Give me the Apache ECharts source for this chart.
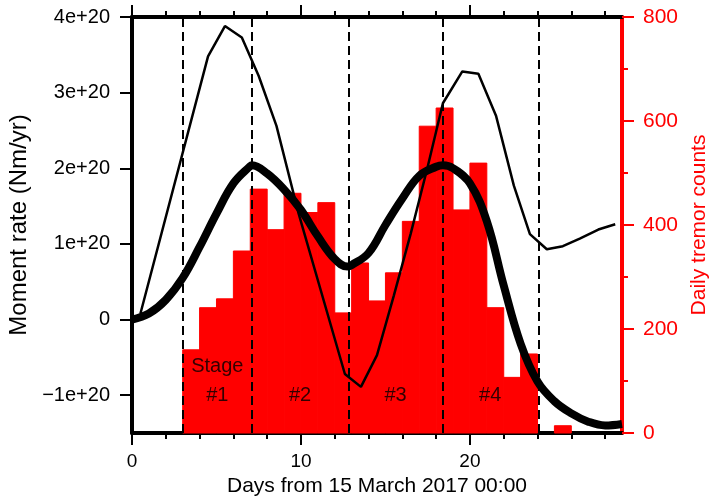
<!DOCTYPE html>
<html><head><meta charset="utf-8">
<script src="https://cdn.jsdelivr.net/npm/echarts@6/dist/echarts.min.js"></script>
<style>html,body{margin:0;padding:0;background:#fff}#c{width:709px;height:503px}</style>
</head><body><div id="c"></div>
<script>
// Daily tremor counts (bar starts at day d, 1-day wide)
const barDays = [3,4,5,6,7,8,9,10,11,12,13,14,15,16,17,18,19,20,21,22,23,24,25,26,27,28];
const tremorCounts = [160,241,258,350,469,391,461,424,443,231,327,254,308,407,590,625,429,519,241,107,152,0,14,0,0,0];

// Smooth (thick) moment-rate curve
const thickDays = [0,1,2,3,4,5,6,7,7.1,8,9,10,11,12,12.75,13,14,15,16,17,18,18.4,19,20,21,22,23,24,25,26,27,28,29];
const thickRate = [0,0.08e20,0.26e20,0.55e20,0.96e20,1.40e20,1.80e20,2.03e20,2.04e20,1.93e20,1.72e20,1.45e20,1.10e20,0.80e20,0.70e20,0.72e20,0.88e20,1.25e20,1.60e20,1.90e20,2.02e20,2.04e20,2.00e20,1.80e20,1.30e20,0.45e20,-0.32e20,-0.82e20,-1.08e20,-1.24e20,-1.35e20,-1.40e20,-1.38e20];

// Daily (thin) moment-rate line
const thinDays = [0.5,4.5,5.5,6.5,7.5,8.55,9.85,12.6,13.55,14.5,15.5,16.5,17.5,18.4,19.55,20.5,21.55,22.6,23.55,24.55,25.5,26.5,27.6,28.6];
const thinRate = [0.08e20,3.48e20,3.88e20,3.73e20,3.22e20,2.56e20,1.41e20,-0.72e20,-0.89e20,-0.47e20,0.32e20,1.14e20,2.02e20,2.86e20,3.28e20,3.25e20,2.69e20,1.77e20,1.13e20,0.93e20,0.97e20,1.07e20,1.19e20,1.26e20];

// Stage boundaries and labels
const stageBounds = [3, 7.1, 12.8, 18.4, 24.05];
const stageLabels = ['#1','#2','#3','#4'];
const stageLabelDays = [5.05, 9.95, 15.6, 21.2];
const stageLabelRate = -1e20;
const stageWordDay = 5.05;
const stageWordRate = -0.62e20;

// Tick values
const xMinorTicks = [0,2,4,6,8,10,12,14,16,18,20,22,24,26,28];
const xMajorTicks = [0,10,20];
const yLeftTicks = [-1e20,0,1e20,2e20,3e20,4e20];

const FONT = 'Liberation Sans, Arial, Helvetica, sans-serif';
const chart = echarts.init(document.getElementById('c'));

function xAx(pos, major, withLine, withLabels, name) {
  return {
    type:'value', position:pos, min:0, max:29, gridIndex:0,
    splitLine:{show:false},
    axisLine:{show:withLine, onZero:false, lineStyle:{color:'#000', width:4}},
    axisTick:{show:true, inside:false, length: major?12:6, lineStyle:{color:'#000', width:2},
      customValues: major ? xMajorTicks : xMinorTicks},
    axisLabel:{show:withLabels, customValues:xMajorTicks, color:'#000', fontSize:19, fontFamily:FONT, margin:19},
    name: name || '', nameLocation:'middle', nameGap:40,
    nameTextStyle:{color:'#000', fontSize:21, fontFamily:FONT}
  };
}

function fmtE(v){
  if (v === 0) return '0';
  const n = Math.round(v/1e20);
  return (n<0?'\u2212':'') + Math.abs(n) + 'e+20';
}

chart.setOption({
  animation:false,
  backgroundColor:'#fff',
  grid:{left:132, right:87, top:17, bottom:70, containLabel:false, outerBoundsMode:'none'},
  xAxis:[
    xAx('bottom', false, true, true, 'Days from 15 March 2017 00:00'),
    xAx('bottom', true, false, false),
    xAx('top', false, true, false),
    xAx('top', true, false, false)
  ],
  yAxis:[
    {type:'value', position:'left', min:-1.5e20, max:4e20,
     splitLine:{show:false},
     axisLine:{show:true, onZero:false, lineStyle:{color:'#000', width:4}},
     axisTick:{show:true, length:12, lineStyle:{color:'#000', width:2}, customValues:yLeftTicks},
     axisLabel:{customValues:yLeftTicks, formatter:fmtE, color:'#000', fontSize:20, fontFamily:FONT, margin:22},
     name:'Moment rate (Nm/yr)', nameLocation:'middle', nameRotate:90, nameGap:90,
     nameTextStyle:{color:'#000', fontSize:24, fontFamily:FONT}},
    {type:'value', position:'right', min:0, max:800, interval:200,
     splitLine:{show:false},
     axisLine:{show:true, onZero:false, lineStyle:{color:'#ff0000', width:4}},
     axisTick:{show:true, length:12, lineStyle:{color:'#ff0000', width:2}},
     minorTick:{show:true, splitNumber:2, length:6, lineStyle:{color:'#ff0000', width:2}},
     axisLabel:{color:'#ff0000', fontSize:21, fontFamily:FONT, margin:21},
     name:'Daily tremor counts', nameLocation:'middle', nameRotate:90, nameGap:66,
     nameTextStyle:{color:'#ff0000', fontSize:21, fontFamily:FONT}}
  ],
  series:[
    {type:'custom', xAxisIndex:0, yAxisIndex:1, z:1,
     data: barDays.map((d,i)=>[d, tremorCounts[i]]),
     encode:{x:0, y:1},
     renderItem:(params, api)=>{
       const d = api.value(0), v = api.value(1);
       if (!v) return null;
       const p0 = api.coord([d, 0]);
       const p1 = api.coord([d+1, v]);
       return {type:'rect', shape:{x:p0[0], y:p1[1], width:p1[0]-p0[0], height:p0[1]-p1[1]},
               style:{fill:'#ff0000', stroke:'#ff0000', lineWidth:1}};
     }},
    {type:'line', xAxisIndex:0, yAxisIndex:0, z:2, data:[], silent:true,
     markLine:{silent:true, symbol:['none','none'], label:{show:false},
       lineStyle:{type:[9,5], color:'#000', width:2},
       emphasis:{disabled:true},
       data: stageBounds.map(x=>({xAxis:x}))}},
    {type:'line', xAxisIndex:0, yAxisIndex:0, z:4, smooth:0.4, showSymbol:false,
     lineStyle:{color:'#000', width:8}, clip:true,
     data: thickDays.map((d,i)=>[d, thickRate[i]])},
    {type:'line', xAxisIndex:0, yAxisIndex:0, z:5, smooth:false, showSymbol:false,
     lineStyle:{color:'#000', width:2.5},
     data: thinDays.map((d,i)=>[d, thinRate[i]])},
    {type:'scatter', xAxisIndex:0, yAxisIndex:0, z:6, symbolSize:0, silent:true,
     label:{show:true, position:'inside', formatter:p=>p.data.name, color:'#000', fontSize:20, fontFamily:FONT},
     data: stageLabels.map((s,i)=>({name:s, value:[stageLabelDays[i], stageLabelRate]}))
       .concat([{name:'Stage', value:[stageWordDay, stageWordRate]}])}
  ]
});
</script></body></html>
